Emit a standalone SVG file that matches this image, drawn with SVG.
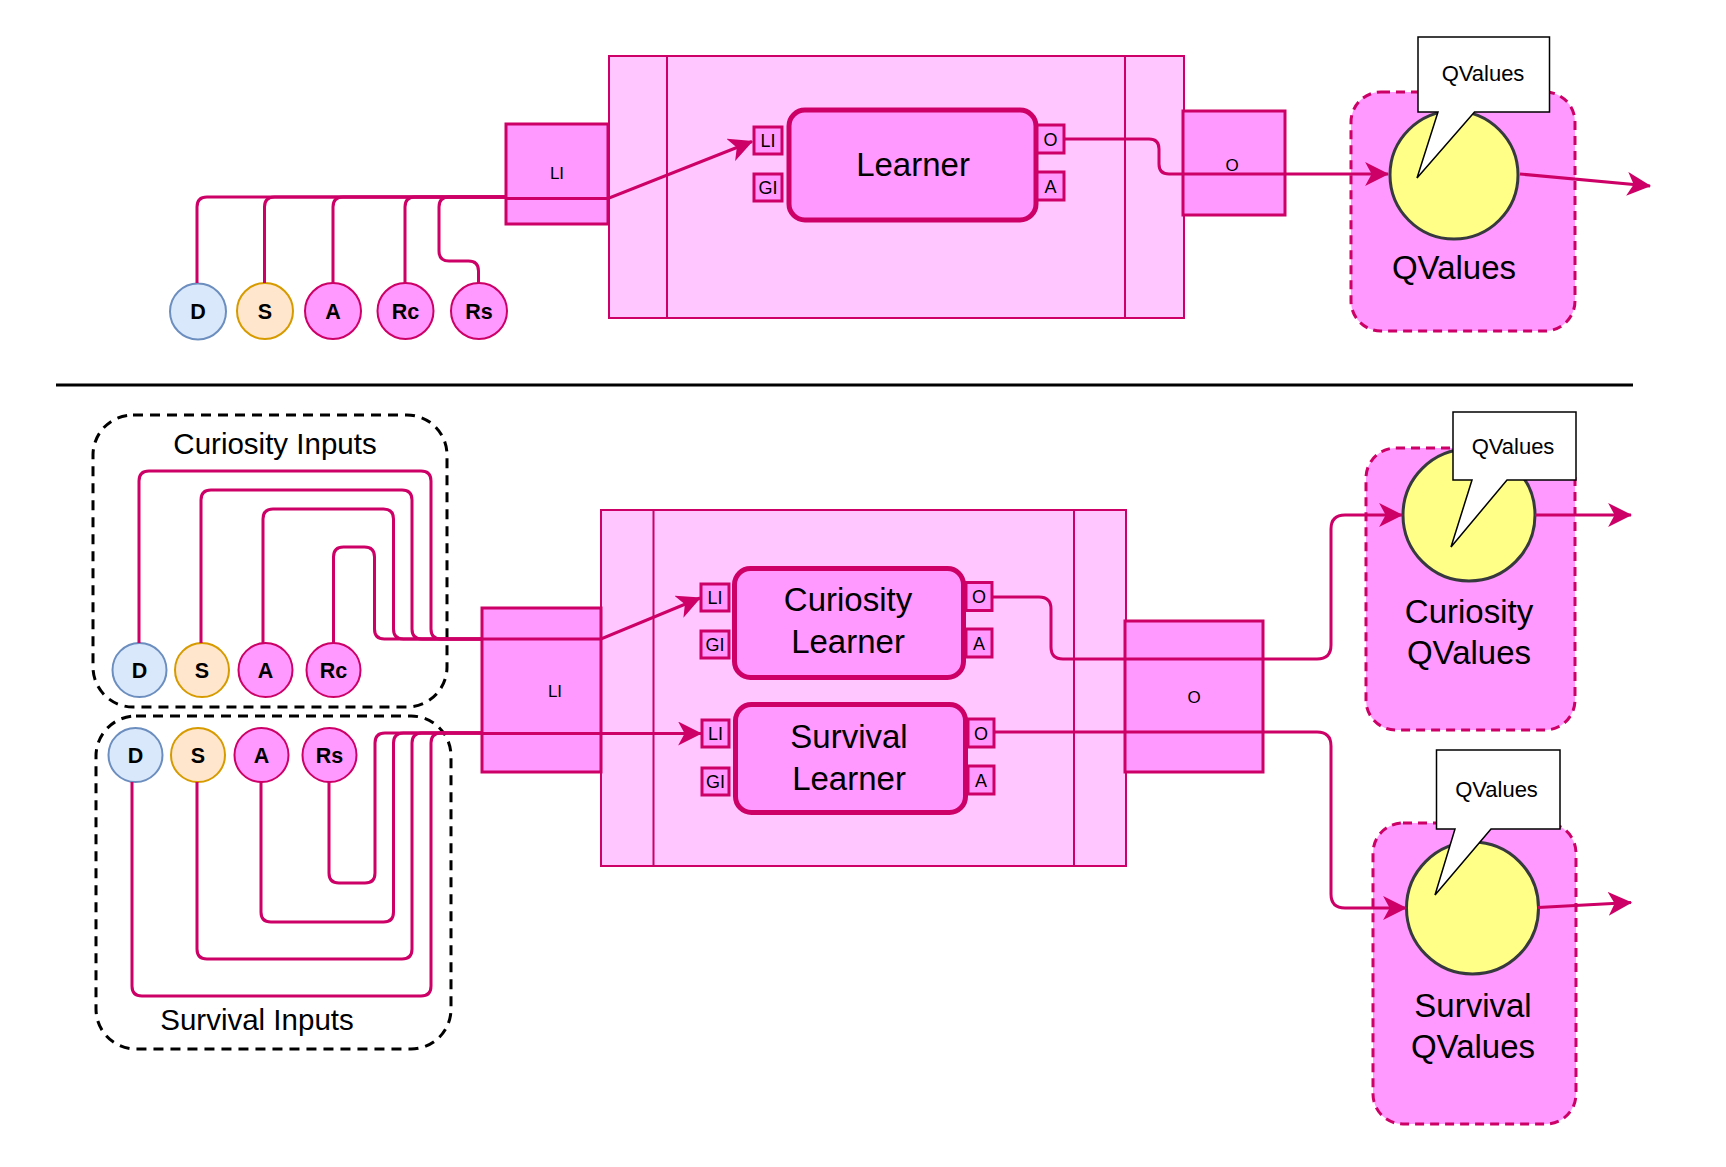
<svg xmlns="http://www.w3.org/2000/svg" width="1726" height="1167" viewBox="0 0 1726 1167">
<style>
.t{font-family:"Liberation Sans",Arial,sans-serif;fill:#000;text-anchor:middle}
.b{font-weight:bold;font-size:21.5px}
.s17{font-size:17px}
.p{font-size:18px}
.s33{font-size:33px}
.s29{font-size:29.5px}
.s22{font-size:22px}
.ct{fill:#FFC6FF;stroke:#CC0066;stroke-width:2}
.pk{fill:#FF99FF;stroke:#CC0066;stroke-width:3}
.lr{fill:#FF99FF;stroke:#CC0066;stroke-width:5}
.edge{fill:none;stroke:#CC0066;stroke-width:3}
.blue{fill:#DAE8FC;stroke:#6C8EBF;stroke-width:2}
.orange{fill:#FFE6CC;stroke:#D79B00;stroke-width:2}
.pc{fill:#FF99FF;stroke:#CC0066;stroke-width:2}
.grp{fill:#FF99FF;stroke:#CC0066;stroke-width:3;stroke-dasharray:9 6}
.dash{fill:none;stroke:#000;stroke-width:3;stroke-dasharray:10 7}
.yc{fill:#FFFF88;stroke:#36393D;stroke-width:3}
.call{fill:#FFF;stroke:#000;stroke-width:1.5}
</style>
<defs>
<marker id="arr" markerUnits="userSpaceOnUse" markerWidth="24" markerHeight="24" viewBox="0 0 22 22" refX="21" refY="11" orient="auto">
<path d="M0,0 L22,11 L0,22 L6,11 Z" fill="#CC0066"/>
</marker>
</defs>
<rect width="1726" height="1167" fill="#FFFFFF"/>

<!-- ===== TOP SECTION ===== -->
<g id="top-container">
<rect class="ct" x="609" y="56" width="575" height="262"/>
<line x1="667" y1="56" x2="667" y2="318" stroke="#CC0066" stroke-width="2"/>
<line x1="1125" y1="56" x2="1125" y2="318" stroke="#CC0066" stroke-width="2"/>
</g>
<g id="top-li-box">
<rect class="pk" x="506" y="124" width="102" height="100"/>
<text class="t s17" x="557" y="179">LI</text>
</g>
<g id="top-o-box">
<rect class="pk" x="1183" y="111" width="102" height="104"/>
<text class="t s17" x="1232" y="171">O</text>
</g>
<g id="top-learner">
<rect class="lr" x="789" y="110" width="247" height="110" rx="16"/>
<text class="t s33" x="913" y="176">Learner</text>
<rect class="pk" x="754" y="127" width="28" height="27"/>
<text class="t p" x="768" y="147">LI</text>
<rect class="pk" x="754" y="174" width="28" height="27"/>
<text class="t p" x="768" y="194">GI</text>
<rect class="pk" x="1037" y="125" width="27" height="28"/>
<text class="t p" x="1050.5" y="145.5">O</text>
<rect class="pk" x="1037" y="172" width="27" height="28"/>
<text class="t p" x="1050.5" y="192.5">A</text>
</g>
<g id="top-qvalues">
<rect class="grp" x="1351" y="92" width="224" height="239" rx="30"/>
<circle class="yc" cx="1454" cy="175" r="64"/>
<text class="t s33" x="1454" y="279">QValues</text>
</g>
<g id="top-inputs">
<circle class="blue" cx="198" cy="311.5" r="28"/>
<text class="t b" x="198" y="319">D</text>
<circle class="orange" cx="265" cy="311" r="28"/>
<text class="t b" x="265" y="318.5">S</text>
<circle class="pc" cx="333" cy="311" r="28"/>
<text class="t b" x="333" y="318.5">A</text>
<circle class="pc" cx="405.5" cy="311" r="28"/>
<text class="t b" x="405.5" y="318.5">Rc</text>
<circle class="pc" cx="479" cy="311" r="28"/>
<text class="t b" x="479" y="318.5">Rs</text>
</g>

<line id="separator" x1="56" y1="385" x2="1633" y2="385" stroke="#000" stroke-width="3"/>

<!-- ===== BOTTOM SECTION ===== -->
<g id="bottom-container">
<rect class="ct" x="601" y="510" width="525" height="356"/>
<line x1="653.5" y1="510" x2="653.5" y2="866" stroke="#CC0066" stroke-width="2"/>
<line x1="1074" y1="510" x2="1074" y2="866" stroke="#CC0066" stroke-width="2"/>
</g>
<g id="bottom-li-box">
<rect class="pk" x="482" y="608" width="119" height="164"/>
<text class="t s17" x="555" y="697">LI</text>
</g>
<g id="bottom-o-box">
<rect class="pk" x="1125" y="621" width="138" height="151"/>
<text class="t s17" x="1194" y="703">O</text>
</g>
<g id="curiosity-learner">
<rect class="lr" x="734.5" y="568.5" width="229" height="109" rx="16"/>
<text class="t s33" x="848" y="611">Curiosity</text>
<text class="t s33" x="848" y="653">Learner</text>
<rect class="pk" x="701" y="584" width="28" height="27"/>
<text class="t p" x="715" y="604">LI</text>
<rect class="pk" x="701" y="631" width="28" height="27"/>
<text class="t p" x="715" y="651">GI</text>
<rect class="pk" x="966" y="582.5" width="26" height="28"/>
<text class="t p" x="979" y="603">O</text>
<rect class="pk" x="966" y="629" width="26" height="28"/>
<text class="t p" x="979" y="649.5">A</text>
</g>
<g id="survival-learner">
<rect class="lr" x="735.5" y="704.5" width="230" height="108" rx="16"/>
<text class="t s33" x="849" y="748">Survival</text>
<text class="t s33" x="849" y="790">Learner</text>
<rect class="pk" x="702" y="720" width="27" height="27"/>
<text class="t p" x="715.5" y="740">LI</text>
<rect class="pk" x="702" y="768" width="27" height="27"/>
<text class="t p" x="715.5" y="788">GI</text>
<rect class="pk" x="968" y="719" width="26" height="28"/>
<text class="t p" x="981" y="739.5">O</text>
<rect class="pk" x="968" y="766" width="26" height="28"/>
<text class="t p" x="981" y="786.5">A</text>
</g>
<g id="curiosity-qvalues">
<rect class="grp" x="1366" y="448" width="209" height="282" rx="30"/>
<circle class="yc" cx="1469" cy="515" r="66"/>
<text class="t s33" x="1469" y="623">Curiosity</text>
<text class="t s33" x="1469" y="664">QValues</text>
</g>
<g id="survival-qvalues">
<rect class="grp" x="1373" y="823" width="203" height="301" rx="30"/>
<circle class="yc" cx="1472.5" cy="908" r="66"/>
<text class="t s33" x="1473" y="1017">Survival</text>
<text class="t s33" x="1473" y="1058">QValues</text>
</g>
<g id="curiosity-inputs">
<rect class="dash" x="93" y="415" width="354" height="292" rx="40"/>
<text class="t s29" x="275" y="454">Curiosity Inputs</text>
<circle class="blue" cx="139.5" cy="670" r="27"/>
<text class="t b" x="139.5" y="677.5">D</text>
<circle class="orange" cx="202" cy="670" r="27"/>
<text class="t b" x="202" y="677.5">S</text>
<circle class="pc" cx="265.5" cy="670" r="27"/>
<text class="t b" x="265.5" y="677.5">A</text>
<circle class="pc" cx="333.5" cy="670" r="27"/>
<text class="t b" x="333.5" y="677.5">Rc</text>
</g>
<g id="survival-inputs">
<rect class="dash" x="96" y="716" width="355" height="333" rx="40"/>
<text class="t s29" x="257" y="1030">Survival Inputs</text>
<circle class="blue" cx="135.5" cy="755" r="27"/>
<text class="t b" x="135.5" y="762.5">D</text>
<circle class="orange" cx="198" cy="755" r="27"/>
<text class="t b" x="198" y="762.5">S</text>
<circle class="pc" cx="261.5" cy="755" r="27"/>
<text class="t b" x="261.5" y="762.5">A</text>
<circle class="pc" cx="329.5" cy="755" r="27"/>
<text class="t b" x="329.5" y="762.5">Rs</text>
</g>

<!-- ===== CONNECTORS ===== -->
<g id="connectors">
<!-- top inputs -->
<path class="edge" d="M197 283 V207 Q197 197 207 197 H505"/>
<path class="edge" d="M264.5 283 V207 Q264.5 197 274.5 197 H505"/>
<path class="edge" d="M333 283 V207 Q333 197 343 197 H505"/>
<path class="edge" d="M405 283 V207 Q405 197 415 197 H505"/>
<path class="edge" d="M478.5 283 V271 Q478.5 261 468.5 261 H449 Q439 261 439 251 V207 Q439 197 449 197 H505"/>
<path class="edge" d="M506 198.5 H608 L752 141.5" marker-end="url(#arr)"/>
<path class="edge" d="M1064 139 H1149 Q1159 139 1159 149 V164 Q1159 174 1169 174 H1388" marker-end="url(#arr)"/>
<path class="edge" d="M1520 174 L1650 186" marker-end="url(#arr)"/>
<!-- curiosity inputs -->
<path class="edge" d="M139 643 V481 Q139 471 149 471 H421 Q431 471 431 481 V629 Q431 639 441 639 H482"/>
<path class="edge" d="M201 643 V500 Q201 490 211 490 H402 Q412 490 412 500 V629 Q412 639 422 639 H482"/>
<path class="edge" d="M263 643 V519 Q263 509 273 509 H383.5 Q393.5 509 393.5 519 V629 Q393.5 639 403.5 639 H482"/>
<path class="edge" d="M333.5 643 V557 Q333.5 547 343.5 547 H364.5 Q374.5 547 374.5 557 V629 Q374.5 639 384.5 639 H482"/>
<path class="edge" d="M482 639 H601 L700 598" marker-end="url(#arr)"/>
<!-- survival inputs -->
<path class="edge" d="M132 782 V986 Q132 996 142 996 H421 Q431 996 431 986 V743 Q431 733 441 733 H482"/>
<path class="edge" d="M197 782 V949 Q197 959 207 959 H402 Q412 959 412 949 V743 Q412 733 422 733 H482"/>
<path class="edge" d="M261 782 V912 Q261 922 271 922 H383.5 Q393.5 922 393.5 912 V743 Q393.5 733 403.5 733 H482"/>
<path class="edge" d="M329 782 V873 Q329 883 339 883 H365 Q375 883 375 873 V743 Q375 733 385 733 H482"/>
<path class="edge" d="M482 733.5 H701" marker-end="url(#arr)"/>
<!-- outputs -->
<path class="edge" d="M992 597 H1039 Q1051 597 1051 609 V647 Q1051 659 1063 659 H1317 Q1331 659 1331 645 V529 Q1331 515 1345 515 H1402" marker-end="url(#arr)"/>
<path class="edge" d="M994 732 H1317 Q1331 732 1331 746 V894 Q1331 908 1345 908 H1406" marker-end="url(#arr)"/>
<path class="edge" d="M1535 515 H1631" marker-end="url(#arr)"/>
<path class="edge" d="M1538 907.5 L1631 902.5" marker-end="url(#arr)"/>
</g>

<!-- callouts -->
<g id="top-callout">
<path class="call" d="M1418 37 H1549.5 V112 H1474.5 L1417 178 L1438 112 H1418 Z"/>
<text class="t s22" x="1483" y="81">QValues</text>
</g>
<g id="curiosity-callout">
<path class="call" d="M1453 412 H1576 V480 H1507 L1451 547 L1472 480 H1453 Z"/>
<text class="t s22" x="1513" y="453.5">QValues</text>
</g>
<g id="survival-callout">
<path class="call" d="M1436.5 750 H1560 V829 H1491 L1435 895 L1455 829 H1436.5 Z"/>
<text class="t s22" x="1496.5" y="797">QValues</text>
</g>
</svg>
